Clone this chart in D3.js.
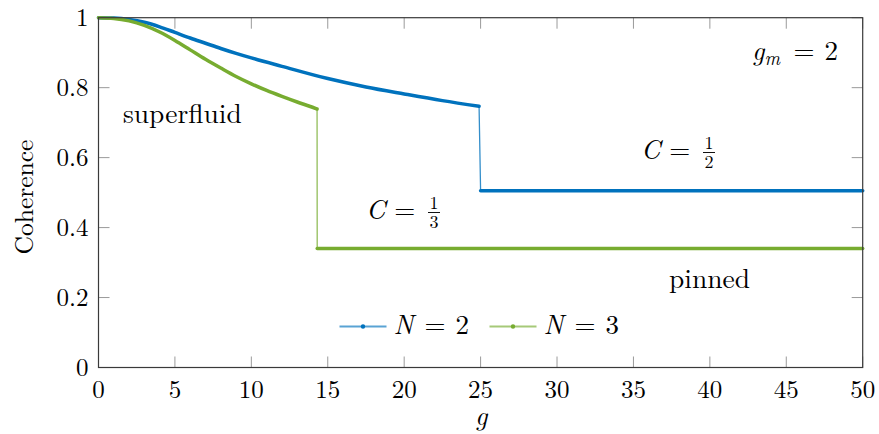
<!DOCTYPE html>
<html>
<head>
<meta charset="utf-8">
<script src="https://cdn.jsdelivr.net/npm/d3@7"></script>
<style>
  body { margin: 0; background: #fff; }
</style>
</head>
<body>
<div id="chart"></div>
<script>
const gN2 = [0, 1, 2, 3, 4, 5, 6, 7, 8, 9, 10, 12, 15, 17.5, 20, 22.5, 24.9, 25, 50];
const cN2 = [1, 0.999, 0.995, 0.987, 0.974, 0.958, 0.942, 0.927, 0.912, 0.898, 0.885, 0.861, 0.826, 0.802, 0.782, 0.763, 0.747, 0.505, 0.505];
const gN3 = [0, 1, 2, 3, 4, 5, 6, 7, 8, 9, 10, 11, 12, 13, 14, 14.3, 14.31, 50];
const cN3 = [1, 0.998, 0.991, 0.978, 0.959, 0.935, 0.908, 0.881, 0.856, 0.832, 0.811, 0.792, 0.775, 0.759, 0.744, 0.739, 0.34, 0.34];
const xTicks = [0, 5, 10, 15, 20, 25, 30, 35, 40, 45, 50];
const yTicks = [0, 0.2, 0.4, 0.6, 0.8, 1];
const seriesNames = ['2', '3'];
const colors = ['#0072BD', '#77AC30'];

const width = 879, height = 434;
const mLeft = 98.5, mRight = 862.7, mTop = 17.7, mBottom = 367.5;
const font = "'Latin Modern Roman', 'Latin Modern Math', serif";

const svg = d3.select('#chart').append('svg')
    .attr('width', width)
    .attr('height', height)
    .style('font-family', font);

const x = d3.scaleLinear().domain([0, 50]).range([mLeft, mRight]);
const y = d3.scaleLinear().domain([0, 1]).range([mBottom, mTop]);

// ticks on all four sides, pointing inward
const tickLen = 11;
const ticks = svg.append('g').attr('stroke', '#9a9a9a').attr('stroke-width', 1);
xTicks.forEach(t => {
    ticks.append('line').attr('x1', x(t)).attr('x2', x(t)).attr('y1', mBottom).attr('y2', mBottom - tickLen);
    ticks.append('line').attr('x1', x(t)).attr('x2', x(t)).attr('y1', mTop).attr('y2', mTop + tickLen);
});
yTicks.forEach(t => {
    ticks.append('line').attr('y1', y(t)).attr('y2', y(t)).attr('x1', mLeft).attr('x2', mLeft + tickLen);
    ticks.append('line').attr('y1', y(t)).attr('y2', y(t)).attr('x1', mRight).attr('x2', mRight - tickLen);
});

svg.append('g').selectAll('text')
    .data(xTicks).enter().append('text')
    .attr('x', d => x(d))
    .attr('y', 397.5)
    .attr('text-anchor', 'middle')
    .attr('font-size', '25px')
    .text(d => d);

svg.append('g').selectAll('text')
    .data(yTicks).enter().append('text')
    .attr('x', 88.5)
    .attr('y', d => y(d) + 8.6)
    .attr('text-anchor', 'end')
    .attr('font-size', '25px')
    .text(d => d);

svg.append('text')
    .attr('transform', `translate(33,197) rotate(-90)`)
    .attr('text-anchor', 'middle')
    .attr('font-size', '25.5px')
    .text('Coherence');

svg.append('text')
    .attr('x', 475)
    .attr('y', 425)
    .attr('font-size', '27px')
    .attr('font-style', 'italic')
    .text('g');

// series: thick curves, thin vertical jumps
const series = [[gN2, cN2], [gN3, cN3]];
series.forEach(([gs, cs], i) => {
    const pts = gs.map((g, k) => [g, cs[k]]);
    const segs = [];
    let cur = [pts[0]];
    for (let k = 1; k < pts.length; k++) {
        const jump = Math.abs(pts[k][1] - pts[k - 1][1]) > 0.1;
        if (jump) {
            segs.push({ pts: cur, thick: true });
            segs.push({ pts: [pts[k - 1], pts[k]], thick: false });
            cur = [pts[k]];
        } else {
            cur.push(pts[k]);
        }
    }
    segs.push({ pts: cur, thick: true });
    const line = d3.line().x(d => x(d[0])).y(d => y(d[1])).curve(d3.curveMonotoneX);
    const straight = d3.line().x(d => x(d[0])).y(d => y(d[1]));
    segs.forEach(s => {
        svg.append('path')
            .attr('d', s.thick ? line(s.pts) : straight(s.pts))
            .attr('fill', 'none')
            .attr('stroke', colors[i])
            .attr('stroke-width', s.thick ? 3.5 : 1.3)
            .attr('stroke-opacity', s.thick ? 1 : 0.8)
            .attr('stroke-linecap', 'round');
    });
});

// frame
svg.append('rect')
    .attr('x', mLeft).attr('y', mTop)
    .attr('width', mRight - mLeft).attr('height', mBottom - mTop)
    .attr('fill', 'none')
    .attr('stroke', '#3a3a3a')
    .attr('stroke-width', 1.2);

// math-ish label: italic symbol, optional subscript
function eqLabel(px, py, sym, sub) {
    const t = svg.append('text').attr('x', px).attr('y', py).attr('font-size', '27px');
    t.append('tspan').attr('font-style', 'italic').text(sym);
    if (sub) {
        t.append('tspan').attr('font-style', 'italic').attr('font-size', '19px').attr('dy', 5).text(sub);
        t.append('tspan').attr('dy', -5).text('\u2009');
    }
    return t;
}

// legend
const legend = svg.append('g').attr('transform', 'translate(339.5,326.5)');
seriesNames.forEach((name, i) => {
    const g = legend.append('g').attr('transform', `translate(${i * 150},0)`);
    g.append('line').attr('x1', 0).attr('x2', 47).attr('y1', 0).attr('y2', 0)
        .attr('stroke', colors[i]).attr('stroke-width', 1.8).attr('stroke-opacity', 0.65);
    g.append('circle').attr('cx', 23.5).attr('cy', 0).attr('r', 2.2).attr('fill', colors[i]);
    const t = g.append('text').attr('x', 54).attr('y', 7).attr('font-size', '27px');
    t.append('tspan').attr('font-style', 'italic').text('N');
    t.append('tspan').attr('dx', 11).text('=');
    t.append('tspan').attr('dx', 10).text(name);
});

// annotations
svg.append('text').attr('x', 123).attr('y', 123).attr('font-size', '27.5px').text('superfluid');
svg.append('text').attr('x', 669).attr('y', 288).attr('font-size', '27.5px').text('pinned');

const gm = eqLabel(752, 60, 'g', 'm');
gm.append('tspan').attr('dx', 8).text('=');
gm.append('tspan').attr('dx', 10).text('2');

function fracLabel(px, py, den) {
    const t = eqLabel(px, py, 'C');
    t.append('tspan').attr('dx', 9).text('=');
    const fx = px + 68, bar = py - 6.5;
    svg.append('text').attr('x', fx).attr('y', bar - 3.5).attr('text-anchor', 'middle')
        .attr('font-size', '18px').text('1');
    svg.append('line').attr('x1', fx - 6).attr('x2', fx + 6).attr('y1', bar).attr('y2', bar)
        .attr('stroke', '#111').attr('stroke-width', 1);
    svg.append('text').attr('x', fx).attr('y', bar + 15.5).attr('text-anchor', 'middle')
        .attr('font-size', '18px').text(den);
}
fracLabel(641, 159, 2);
fracLabel(366, 219, 3);
</script>
</body>
</html>
